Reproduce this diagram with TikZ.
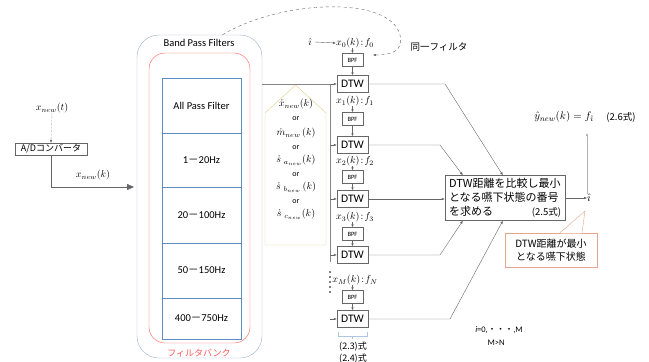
\documentclass[tikz,border=0pt]{standalone}
\usepackage{fontspec}
\setmainfont{Carlito}
\newfontfamily\jp{Noto Sans CJK JP}
\usetikzlibrary{arrows.meta,calc}
\definecolor{bpfgray}{HTML}{9DB0C8}
\definecolor{bankred}{HTML}{FF5A5A}
\definecolor{rowblue}{HTML}{5B8DC4}
\definecolor{penta}{HTML}{E3CF85}
\definecolor{callout}{HTML}{E5A58A}
\definecolor{ln}{HTML}{666666}
\newcommand\fwd{{\jp －}}
\tikzset{
  dtwbox/.style={draw=ln, fill=white, minimum width=31pt, minimum height=17pt, inner sep=0pt, font=\fontsize{11.5}{12}\selectfont},
  bpfbox/.style={draw=ln, fill=white, minimum width=21pt, minimum height=13pt, inner sep=0pt, font=\fontsize{6.5}{7}\selectfont},
  lbl/.style={inner sep=0pt, font=\fontsize{10}{11}\selectfont},
  arr/.style={draw=ln, -{Latex[length=3pt,width=2.5pt]}},
  wire/.style={draw=ln!80, line width=0.5pt},
  rowbox/.style={draw=rowblue, fill=white, minimum width=79pt, inner sep=0pt, font=\fontsize{10.5}{12}\selectfont},
  pt/.style={inner sep=0pt, font=\fontsize{10}{11}\selectfont},
  ort/.style={inner sep=0pt, font=\fontsize{8}{9}\selectfont},
}
\begin{document}
\begin{tikzpicture}[x=1pt,y=-1pt]
\useasboundingbox (0,0) rectangle (649,362);
% input side
\node[lbl] (xt) at (52,108) {$x_{new}(t)$};
\node[draw=ln, minimum width=72pt, minimum height=12pt, inner sep=0pt, font=\jp\fontsize{9}{10}\selectfont] (ad) at (51,149) {A/Dコンバータ};
\draw[arr, densely dotted] (xt.south) -- (ad.north);
\node[lbl] (xk) at (93,175) {$x_{new}(k)$};
% filter bank
\node[draw=bpfgray, rounded corners=22pt, minimum width=125pt, minimum height=323pt, inner sep=0pt] (outer) at (199.5,196.5) {};
\node[inner sep=0pt, font=\fontsize{10.5}{12}\selectfont] (bpft) at (199,43) {Band Pass Filters};
\node[draw=bankred, rounded corners=16pt, minimum width=101pt, minimum height=290pt, inner sep=0pt] (red) at (199.5,198) {};
\node[inner sep=0pt, text=bankred, font=\jp\fontsize{9}{10}\selectfont] (fbk) at (199,353) {フィルタバンク};
\node[rowbox, minimum height=55pt] (r0) at (201.5,105.5) {All Pass Filter};
\node[rowbox, minimum height=54pt] (r1) at (201.5,160) {1\fwd20Hz};
\node[rowbox, minimum height=56pt] (r2) at (201.5,215) {20\fwd100Hz};
\node[rowbox, minimum height=55pt] (r3) at (201.5,270.5) {50\fwd150Hz};
\node[rowbox, minimum height=41pt] (r4) at (201.5,318.5) {400\fwd750Hz};
\coordinate (fbin) at (134,187);
\draw[draw=ln, -{Triangle[length=7pt,width=6pt]}] (ad.south) |- (fbin);
% DTW column
\node[dtwbox] (d0) at (352.5,84) {DTW};
\node[dtwbox] (d1) at (352.5,145) {DTW};
\node[dtwbox] (d2) at (352.5,199) {DTW};
\node[dtwbox] (d3) at (352.5,255) {DTW};
\node[dtwbox] (d4) at (352.5,319) {DTW};
\node[bpfbox] (b0) at (352.5,60) {BPF};
\node[bpfbox] (b1) at (352.5,119) {BPF};
\node[bpfbox] (b2) at (352.5,177) {BPF};
\node[bpfbox] (b3) at (352.5,234) {BPF};
\node[bpfbox] (b4) at (352.5,297) {BPF};
\node[lbl] (l0) at (355,43) {$x_0(k)\!:\!f_0$};
\node[lbl] (l1) at (355,101) {$x_1(k)\!:\!f_1$};
\node[lbl] (l2) at (355,161) {$x_2(k)\!:\!f_2$};
\node[lbl] (l3) at (355,217) {$x_3(k)\!:\!f_3$};
\node[lbl] (lM) at (355,280) {$x_M(k)\!:\!f_N$};
\foreach \i in {0,1,2,3} {
  \draw[arr] (l\i.south -| b\i.north) -- (b\i.north);
  \draw[arr] (b\i.south) -- (d\i.north);
}
\draw[arr] (lM.south -| b4.north) -- (b4.north);
\draw[arr] (b4.south) -- (d4.north);
\node[lbl] (ht) at (310,42) {$\hat{\imath}$};
\draw[arr] (ht.east) ++(3,0) -- (l0.west);
% bus
\coordinate (bus) at (330,84);
\draw[wire] (outer.east |- d0.west) -- (bus);
\draw[arr] (bus) -- (d0.west);
\draw[wire] (bus) -- (330,262);
\foreach \i in {1,2,3,4} \draw[arr] (bus |- d\i.west) -- (d\i.west);
\foreach \yy in {272,277,...,293} \fill[black] (330,\yy) circle (0.8pt);
% pentagon
\draw[penta, fill=white] (265,113) -- (295.5,85) -- (326,113) -- (326,245) -- (265,245) -- cycle;
\node[pt] (p1) at (296,104) {$\dot{x}_{new}(k)$};
\node[ort] (p2) at (296,119) {or};
\node[pt] (p3) at (296,133) {$\dot{m}_{new}\,(k)$};
\node[ort] (p4) at (296,147.5) {or};
\node[pt] (p5) at (296,160) {$\dot{s}\;{}_{a_{new}}(k)$};
\node[ort] (p6) at (296,174.5) {or};
\node[pt] (p7) at (296,187) {$\dot{s}\;{}_{b_{new}}\,(k)$};
\node[ort] (p8) at (296,201.5) {or};
\node[pt] (p9) at (296,214) {$\dot{s}\;{}_{c_{new}}(k)$};
% same filter dashed curve
\node[inner sep=0pt, font=\jp\fontsize{9.5}{11}\selectfont] (same) at (439,47) {同一フィルタ};
\coordinate (sametip) at (373,55);
\draw[dashed, draw=ln, -{Latex[length=3pt,width=2.5pt]}] ($(outer.north)+(23,0)$) .. controls (280,0) and (390,-5) .. (400,35) .. controls (404,52) and (390,55) .. (sametip);
% comparison box
\node[draw=ln, minimum width=120pt, minimum height=45pt, inner sep=3pt, text width=112pt, align=left, font=\jp\fontsize{11}{14}\selectfont] (cmp) at (505,198) {DTW距離を比較し最小\\となる嚥下状態の番号\\を求める\hfill{\fontsize{9.5}{14}\selectfont(2.5式)}};
\coordinate (ct1) at ($(cmp.north west)+(18,0)$);
\coordinate (ct2) at ($(cmp.north west)+(58,0)$);
\coordinate (cb1) at ($(cmp.south west)+(18,0)$);
\coordinate (cb2) at ($(cmp.south west)+(58,0)$);
\draw[arr] (d0.east) -- (445,84) -- (ct2);
\draw[arr] (d1.east) -- (440,145) -- (ct1);
\draw[arr] (d2.east) -- (d2.east -| cmp.west);
\draw[arr] (d3.east) -- (440,255) -- (cb1);
\draw[arr] (d4.east) -- (450,319) -- (cb2);
% output
\node[lbl, font=\fontsize{11}{12}\selectfont] (hat) at (589,198) {$\hat{\imath}$};
\draw[arr] (cmp.east) -- (hat.west);
\node[inner sep=0pt, font=\fontsize{11}{12}\selectfont] (yh) at (564,117) {$\hat{y}_{new}(k)=f_{\hat{\imath}}$};
\node[inner sep=0pt, font=\jp\fontsize{9.5}{10}\selectfont] (eq26) at (621,117) {(2.6式)};
\coordinate (fi) at (587,133);
\draw[draw=ln!50, -{Latex[length=3pt,width=2.5pt]}] (hat.north -| fi) -- (fi);
% callout
\node[draw=callout, fill=white, minimum width=92pt, minimum height=34pt, inner sep=1pt, align=center, font=\jp\fontsize{10}{13}\selectfont] (co) at (551,250) {DTW距離が最小\\となる嚥下状態};
\coordinate (cotip) at (585,211);
\fill[white] ($(co.north)+(9.5,0.6)$) -- (cotip) -- ($(co.north)+(30.5,0.6)$) -- cycle;
\draw[callout] ($(co.north)+(9,0)$) -- (cotip) -- ($(co.north)+(31,0)$);
% bracket and equations
\draw[rowblue!50] (338,332) -- (338,336) -- (367,336) -- (367,332) (352.5,336) -- (352.5,339);
\node[inner sep=0pt, font=\jp\fontsize{9}{10}\selectfont] (e23) at (353,347) {(2.3)式};
\node[inner sep=0pt, font=\jp\fontsize{9}{10}\selectfont] (e24) at (353,359) {(2.4)式};
\node[inner sep=0pt, font=\fontsize{8.5}{10}\selectfont] (irange) at (499,330) {\textit{i}=0,{\jp ・・・},M};
\node[inner sep=0pt, font=\fontsize{8.5}{10}\selectfont] (mn) at (496,343) {M>N};
\end{tikzpicture}
\end{document}
